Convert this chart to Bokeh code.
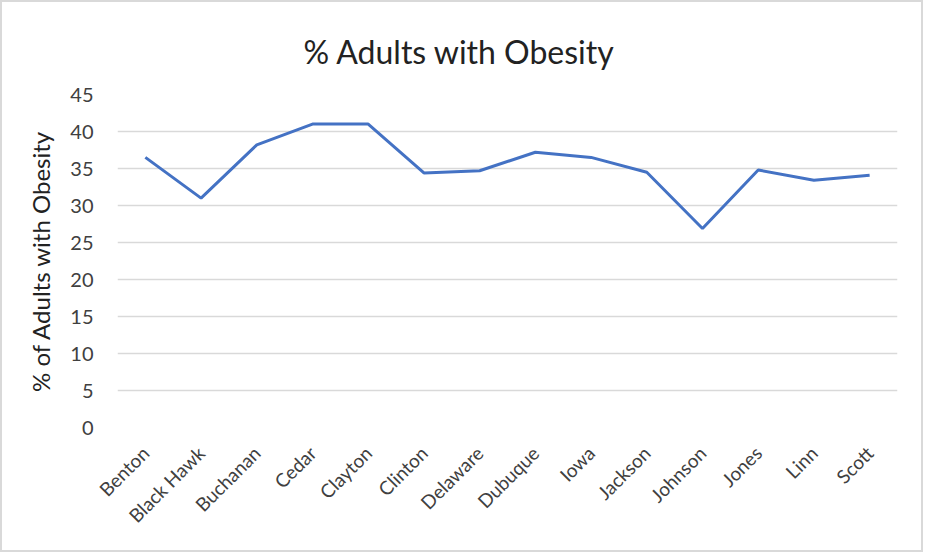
from bokeh.plotting import figure
from bokeh.models import FixedTicker, FactorRange, Range1d
from bokeh.embed import file_html
from bokeh.resources import INLINE
import math

# County-level adult obesity rates
counties = ["Benton", "Black Hawk", "Buchanan", "Cedar", "Clayton", "Clinton",
            "Delaware", "Dubuque", "Iowa", "Jackson", "Johnson", "Jones",
            "Linn", "Scott"]
obesity_pct = [36.5, 31.0, 38.2, 41.0, 41.0, 34.4, 34.7, 37.2, 36.5, 34.5,
               26.9, 34.8, 33.4, 34.1]
y_ticks = [0, 5, 10, 15, 20, 25, 30, 35, 40, 45]

FONT = "Lato"
TEXT = "#404040"

p = figure(
    width=923, height=552,
    x_range=FactorRange(*counties, range_padding=0),
    y_range=Range1d(0, 45),
    output_backend="svg", toolbar_location=None,
    title="% Adults with Obesity",
    min_border_left=115, min_border_right=28,
    min_border_top=92, min_border_bottom=127,
)
p.styles = {"border": "2px solid #d9d9d9"}

p.line(x=counties, y=obesity_pct, line_color="#4472C4", line_width=3)

# Title: left-aligned with an offset so it sits centred over the whole chart
p.title.align = "left"
p.title.offset = 186
p.title.vertical_align = "top"
p.title.text_font = FONT
p.title.text_font_size = "32px"
p.title.text_font_style = "normal"
p.title.text_color = "#222222"
p.title.standoff = 44

# Axes
p.yaxis.ticker = FixedTicker(ticks=y_ticks)
p.yaxis.axis_label = "% of Adults with Obesity"
p.yaxis.axis_label_text_font = FONT
p.yaxis.axis_label_text_font_size = "24px"
p.yaxis.axis_label_text_font_style = "normal"
p.yaxis.axis_label_text_color = "#222222"
p.yaxis.axis_label_standoff = 12

for ax in (p.xaxis, p.yaxis):
    ax.axis_line_color = None
    ax.major_tick_line_color = None
    ax.minor_tick_line_color = None
    ax.major_label_text_font = FONT
    ax.major_label_text_color = TEXT

p.yaxis.major_label_text_font_size = "20px"
p.yaxis.major_label_standoff = 18
p.xaxis.major_label_text_font_size = "19px"
p.xaxis.major_label_orientation = math.pi / 4
p.xaxis.major_label_standoff = 16

p.xgrid.grid_line_color = None
p.ygrid.grid_line_color = "#d9d9d9"
p.ygrid.grid_line_width = 1.5

p.outline_line_color = None
p.background_fill_color = "white"
p.border_fill_color = "white"

open("out.html", "w").write(file_html(p, INLINE))
